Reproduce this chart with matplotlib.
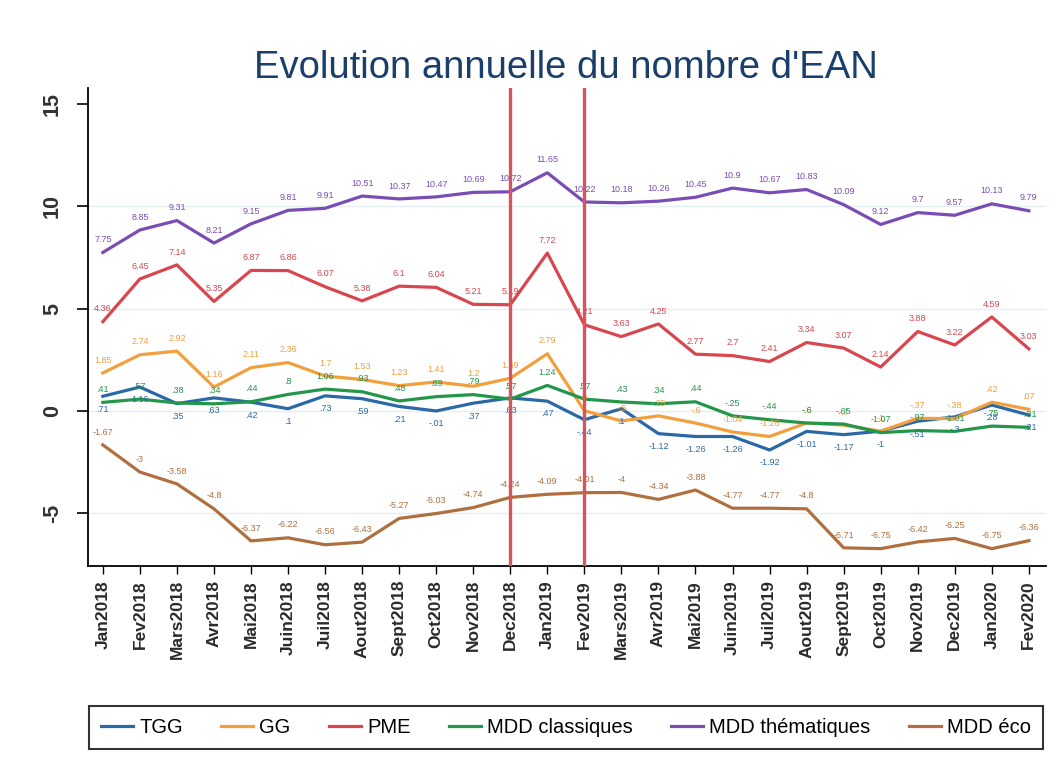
import numpy as np
import matplotlib
matplotlib.use('Agg')
import matplotlib.pyplot as plt

plt.rcParams['font.family'] = ['Liberation Sans', 'DejaVu Sans']

# mois (Jan2018 -> Fev2020)
mois = ['Jan2018', 'Fev2018', 'Mars2018', 'Avr2018', 'Mai2018', 'Juin2018', 'Juil2018',
        'Aout2018', 'Sept2018', 'Oct2018', 'Nov2018', 'Dec2018', 'Jan2019', 'Fev2019',
        'Mars2019', 'Avr2019', 'Mai2019', 'Juin2019', 'Juil2019', 'Aout2019', 'Sept2019',
        'Oct2019', 'Nov2019', 'Dec2019', 'Jan2020', 'Fev2020']

tgg = [.71, 1.16, .35, .63, .42, .1, .73, .59, .21, -.01, .37, .63, .47, -.44,
       .1, -1.12, -1.26, -1.26, -1.92, -1.01, -1.17, -1, -.51, -.3, .28, -.21]
gg = [1.85, 2.74, 2.92, 1.16, 2.11, 2.36, 1.7, 1.53, 1.23, 1.41, 1.2, 1.59, 2.79, 0,
      -.5, -.25, -.6, -1.04, -1.26, -.6, -.7, -1, -.37, -.38, .42, .07]
pme = [4.36, 6.45, 7.14, 5.35, 6.87, 6.86, 6.07, 5.38, 6.1, 6.04, 5.21, 5.19, 7.72, 4.21,
       3.63, 4.25, 2.77, 2.7, 2.41, 3.34, 3.07, 2.14, 3.88, 3.22, 4.59, 3.03]
mdd_classiques = [.41, .57, .38, .34, .44, .8, 1.06, .93, .48, .69, .79, .57, 1.24, .57,
                  .43, .34, .44, -.25, -.44, -.6, -.65, -1.07, -.97, -1.01, -.75, -.81]
mdd_thematiques = [7.75, 8.85, 9.31, 8.21, 9.15, 9.81, 9.91, 10.51, 10.37, 10.47, 10.69, 10.72,
                   11.65, 10.22, 10.18, 10.26, 10.45, 10.9, 10.67, 10.83, 10.09, 9.12, 9.7,
                   9.57, 10.13, 9.79]
mdd_eco = [-1.67, -3, -3.58, -4.8, -6.37, -6.22, -6.56, -6.43, -5.27, -5.03, -4.74, -4.24,
           -4.09, -4.01, -4, -4.34, -3.88, -4.77, -4.77, -4.8, -6.71, -6.75, -6.42, -6.25,
           -6.75, -6.36]

dates_ref = ['Dec2018', 'Fev2019']

series = [
    ('TGG', tgg, '#2b68a6', 'below'),
    ('GG', gg, '#f2a03d', 'above'),
    ('PME', pme, '#d8474f', 'above'),
    ('MDD classiques', mdd_classiques, '#23964a', 'above'),
    ('MDD thématiques', mdd_thematiques, '#7a4db5', 'above'),
    ('MDD éco', mdd_eco, '#b06f3e', 'above'),
]


def fmt(v):
    # format a la Stata : pas de zero avant la virgule
    s = f'{v:g}'
    if s.startswith('0.'):
        s = s[1:]
    elif s.startswith('-0.'):
        s = '-' + s[2:]
    return s


x = np.arange(len(mois))

fig = plt.figure(figsize=(10.58, 7.76), dpi=100)
ax = fig.add_axes([0.0832, 0.2706, 0.905, 0.616])

for yv in [-5, 0, 5, 10]:
    ax.axhline(yv, color='#e4eff3', lw=1.0, zorder=0)

for nom, vals, col, pos in series:
    ax.plot(x, vals, color=col, lw=2.3, label=nom, zorder=3)
    for xi, v in zip(x, vals):
        if pos == 'above':
            ax.annotate(fmt(v), (xi, v), xytext=(0, 6), textcoords='offset points',
                        ha='center', va='bottom', fontsize=6.5, color=col, zorder=4)
        else:
            ax.annotate(fmt(v), (xi, v), xytext=(0, -6), textcoords='offset points',
                        ha='center', va='top', fontsize=6.5, color=col, zorder=4)

for d in dates_ref:
    ax.axvline(mois.index(d), color='#d9545a', lw=2.4, zorder=5)

ax.set_xlim(-0.4, 25.45)
ax.set_ylim(-7.6, 15.8)
ax.set_yticks([-5, 0, 5, 10, 15])
ax.set_yticklabels(['-5', '0', '5', '10', '15'], rotation=90, va='center', fontsize=15.5,
                   fontweight='bold', color='#333333')
ax.set_xticks(x)
ax.set_xticklabels(mois, rotation=90, fontsize=12.5, fontweight='bold', color='#2a2a2a')
ax.tick_params(axis='y', length=8, width=1.2, pad=10)
ax.tick_params(axis='x', length=6, width=1.0, pad=4)

ax.spines['top'].set_visible(False)
ax.spines['right'].set_visible(False)
ax.spines['left'].set_linewidth(1.3)
ax.spines['bottom'].set_linewidth(1.3)

fig.suptitle("Evolution annuelle du nombre d'EAN", x=0.535, y=0.935, fontsize=27.5,
             color='#1a3f6a')

leg = fig.legend(loc='center', bbox_to_anchor=(0.535, 0.063), ncol=6, fontsize=14.5,
                 frameon=True, fancybox=False, edgecolor='black', handlelength=1.6,
                 columnspacing=1.9, handletextpad=0.3, borderpad=0.6)
leg.get_frame().set_linewidth(1.5)

plt.savefig('out.png', dpi=100)
